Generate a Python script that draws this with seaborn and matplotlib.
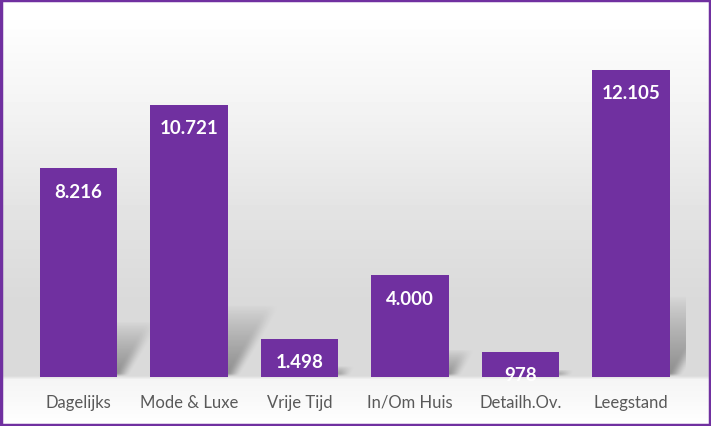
import numpy as np
import pandas as pd
import seaborn as sns
import matplotlib.pyplot as plt
from matplotlib.patches import Rectangle

# data
categories = ['Dagelijks', 'Mode & Luxe', 'Vrije Tijd', 'In/Om Huis', 'Detailh.Ov.', 'Leegstand']
values = [8216, 10721, 1498, 4000, 978, 12105]
value_labels = ['8.216', '10.721', '1.498', '4.000', '978', '12.105']

purple = '#7030A0'

df = pd.DataFrame({'cat': categories, 'val': values})

sns.set_theme(style='white')
plt.rcParams['font.family'] = ['Lato', 'DejaVu Sans']

fig = plt.figure(figsize=(7.11, 4.27), dpi=100)

# grey backdrop: white on top, grey "floor" behind the bars, light below
bg = fig.add_axes([0, 0, 1, 1], zorder=-2)
yy = np.linspace(0, 1, 427)
shade = np.interp(yy, [0, 0.06, 0.108, 0.116, 0.3, 0.5, 0.75, 0.97],
                  [1.0, 0.975, 0.96, 0.855, 0.855, 0.89, 0.955, 1.0])
bg.imshow(np.tile(shade[:, None], (1, 2)), cmap='gray', vmin=0, vmax=1,
          aspect='auto', extent=[0, 1, 0, 1], origin='lower')
bg.set_axis_off()

ax = fig.add_axes([0.033, 0.115, 0.932, 0.862])
ax.patch.set_alpha(0)

sns.barplot(data=df, x='cat', y='val', color=purple, saturation=1, width=0.7,
            linewidth=0, edgecolor='none', ax=ax, zorder=3)

ax.set_ylim(0, 14500)
ax.set_xlim(-0.5, 5.5)

# soft slanted shadows behind the bars, built as an image in pixel space
fig.canvas.draw()
bb = ax.get_window_extent()
nx, ny = int(bb.width), int(bb.height)
X, Y = np.meshgrid(np.arange(nx) + 0.5, np.arange(ny) + 0.5)
alpha = np.zeros_like(X)
def smooth(t):
    t = np.clip(t, 0, 1)
    return t * t * (3 - 2 * t)
for bar in ax.patches:
    (px0, py0), (px1, py1) = ax.transData.transform(
        [(bar.get_x(), 0), (bar.get_x() + bar.get_width(), bar.get_height())]) - [bb.x0, bb.y0]
    hp = py1 - py0
    sh = hp * 0.26
    dy = Y - py0
    u = X - 4 - 0.6 * dy
    soft = 16
    a = smooth((u - px0 + soft / 2) / soft) * smooth((px1 - u + soft / 2) / soft)
    a *= np.clip(1 - dy / (sh + 1), 0, 1) ** 0.8 * smooth(dy / 4)
    alpha = np.maximum(alpha, a * 0.36)
rgba = np.zeros((ny, nx, 4))
rgba[..., 3] = alpha
ax.imshow(rgba, extent=[-0.5, 5.5, 0, 14500], origin='lower', aspect='auto',
          zorder=1, interpolation='bilinear')
ax.set_xlim(-0.5, 5.5)
ax.set_ylim(0, 14500)

texts = ax.bar_label(ax.containers[0], labels=value_labels, padding=-16.5,
                     color='white', fontsize=13.5, fontweight='bold')
for t in texts:
    t.set_va('center')

ax.set_xlabel('')
ax.set_ylabel('')
ax.set_yticks([])
ax.tick_params(axis='x', length=0, pad=12, labelsize=12, labelcolor='#595959')
sns.despine(ax=ax, left=True, bottom=True)

# purple frame round the chart
fig.patches.append(Rectangle((0.002, 0.003), 0.996, 0.994, transform=fig.transFigure,
                             fill=False, edgecolor=purple, linewidth=2.5, zorder=10))

fig.savefig('out.png', dpi=100)
